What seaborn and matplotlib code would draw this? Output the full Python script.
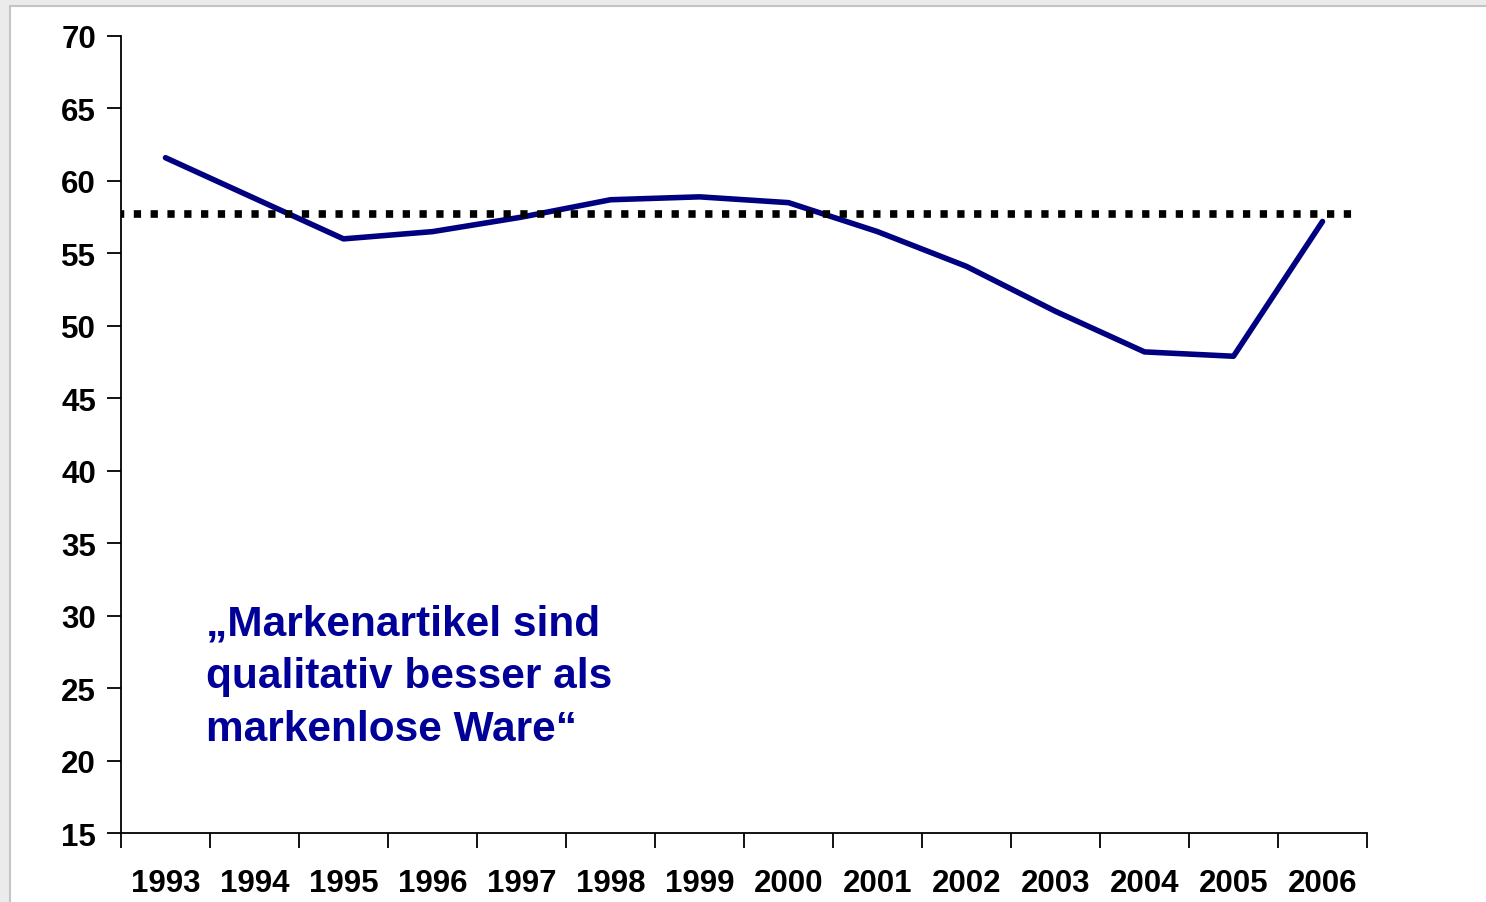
import numpy as np
import pandas as pd
import matplotlib
matplotlib.use("Agg")
import matplotlib.pyplot as plt
import seaborn as sns
from matplotlib.patches import Rectangle

# data
years = ['1993', '1994', '1995', '1996', '1997', '1998', '1999',
         '2000', '2001', '2002', '2003', '2004', '2005', '2006']
share = [61.6, 58.8, 56.0, 56.5, 57.5, 58.7, 58.9,
         58.5, 56.5, 54.1, 51.0, 48.2, 47.9, 57.2]
avg_level = 57.75
y_ticks = [15, 20, 25, 30, 35, 40, 45, 50, 55, 60, 65, 70]
note = '\u201eMarkenartikel sind\nqualitativ besser als\nmarkenlose Ware\u201c'

sns.set_style('white')
plt.rcParams['font.family'] = ['Liberation Sans', 'DejaVu Sans']

df = pd.DataFrame({'pos': np.arange(len(years)), 'share': share})

fig = plt.figure(figsize=(14.86, 9.03), dpi=100)
fig.patch.set_facecolor('#ebebeb')
# white panel with a thin grey border
fig.patches.append(Rectangle((10 / 1486, -0.05), 1.1, 1.05 - 7 / 903,
                             transform=fig.transFigure, facecolor='white',
                             edgecolor='#c4c4c4', linewidth=1.5, zorder=-5))

ax = fig.add_axes([121 / 1486, 1 - 834 / 903, 1246 / 1486, 797 / 903])
ax.set_facecolor('none')

sns.lineplot(data=df, x='pos', y='share', color='#000080', linewidth=4.0,
             ax=ax, zorder=3)
ax.hlines(avg_level, -0.55, 13.4, colors='black', linewidth=5.5,
          linestyles=(0, (0.95, 1.25)), zorder=4, capstyle='butt')

ax.set_xlim(-0.5, len(years) - 0.5)
ax.set_ylim(15, 70)
ax.set_yticks(y_ticks)
ax.set_yticklabels([str(t) for t in y_ticks], fontsize=22.5, fontweight='bold',
                   color='black')

# tick marks between categories, labels centred
ax.set_xticks(np.arange(-0.5, len(years), 1.0))
ax.set_xticklabels([])
ax.set_xticks(np.arange(len(years)), minor=True)
ax.set_xticklabels(years, minor=True, fontsize=22.5, fontweight='bold',
                   color='black')
ax.tick_params(axis='x', which='major', direction='out', length=11, width=1.3,
               color='black', bottom=True)
ax.tick_params(axis='x', which='minor', length=0, pad=25)
ax.tick_params(axis='y', direction='out', length=10, width=1.3, color='black',
               pad=8, left=True)
ax.set_xlabel('')
ax.set_ylabel('')

for side in ['top', 'right']:
    ax.spines[side].set_visible(False)
for side in ['left', 'bottom']:
    ax.spines[side].set_color('black')
    ax.spines[side].set_linewidth(1.3)

ax.text(0.45, 30.85, note, fontsize=30.5, fontweight='bold', color='#000099',
        va='top', ha='left', linespacing=1.41)

fig.savefig('out.png', dpi=100, facecolor=fig.get_facecolor())
